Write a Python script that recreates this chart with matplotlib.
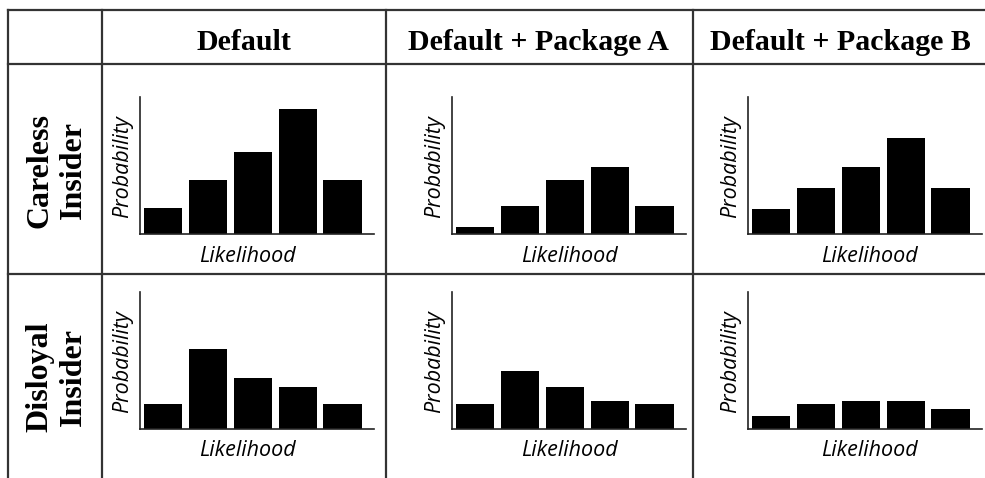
import matplotlib
matplotlib.use("Agg")
import matplotlib.pyplot as plt
from matplotlib.lines import Line2D
import numpy as np

# column headers and row labels of the table
colHeaders = ["Default", "Default + Package A", "Default + Package B"]
rowLabels = ["Careless\nInsider", "Disloyal\nInsider"]

# bar heights (same arbitrary scale, axis top = 137)
carelessDefault = [26, 54, 82, 125, 54]
carelessPackA = [7, 28, 54, 67, 28]
carelessPackB = [25, 46, 67, 96, 46]
disloyalDefault = [25, 80, 51, 42, 25]
disloyalPackA = [25, 58, 42, 28, 25]
disloyalPackB = [13, 25, 28, 28, 20]
yTop = 137

W, H = 985, 478
fig = plt.figure(figsize=(W / 100, H / 100), dpi=100)
fig.patch.set_facecolor("white")


def fx(x):
    return x / W


def fy(y):
    return 1 - y / H


def hline(y, x0, x1):
    fig.add_artist(Line2D([fx(x0), fx(x1)], [fy(y), fy(y)], color="#333333", lw=1.6))


def vline(x, y0, y1):
    fig.add_artist(Line2D([fx(x), fx(x)], [fy(y0), fy(y1)], color="#333333", lw=1.6))


# table grid (pixel positions)
colEdges = [8, 102, 386, 693]
rowEdges = [10, 64, 274]
for y in rowEdges:
    hline(y, colEdges[0], W)
for x in colEdges:
    vline(x, rowEdges[0], H)

# headers
headerCenters = [244, 538, 840]
for cx, txt in zip(headerCenters, colHeaders):
    fig.text(fx(cx), fy(42), txt, ha="center", va="center",
             family="Liberation Serif", fontweight="bold", fontsize=21.5)

rowCenters = [170, 377]
for cy, txt in zip(rowCenters, rowLabels):
    fig.text(fx(57), fy(cy), txt, ha="center", va="center", rotation=90,
             family="Liberation Serif", fontweight="bold", fontsize=23,
             linespacing=1.2)

data = [[carelessDefault, carelessPackA, carelessPackB],
        [disloyalDefault, disloyalPackA, disloyalPackB]]

axLefts = [140, 452, 748]
axTops = [97, 292]
axW, axH = 234, 137
likelihoodX = [0.46, 0.50, 0.52]

for r in range(2):
    for c in range(3):
        left = axLefts[c]
        top = axTops[r]
        ax = fig.add_axes([fx(left), fy(top + axH), axW / W, axH / H])
        vals = data[r][c]
        x = np.arange(len(vals))
        ax.bar(x, vals, width=0.85, color="black")
        ax.set_xlim(-0.51, 4.70)
        ax.set_ylim(0, yTop)
        for s in ["top", "right"]:
            ax.spines[s].set_visible(False)
        for s in ["left", "bottom"]:
            ax.spines[s].set_linewidth(1.2)
            ax.spines[s].set_color("#222222")
        ax.set_xticks([])
        ax.set_yticks([])
        ax.patch.set_alpha(0)
        ax.text(-17 / axW, 0.49, "Probability", rotation=90, ha="center", va="center",
                transform=ax.transAxes, family="Open Sans", style="italic", fontsize=15.5)
        ax.text(likelihoodX[c], -22 / axH, "Likelihood", ha="center", va="center",
                transform=ax.transAxes, family="Open Sans", style="italic", fontsize=15.5)

fig.savefig("out.png", dpi=100)
